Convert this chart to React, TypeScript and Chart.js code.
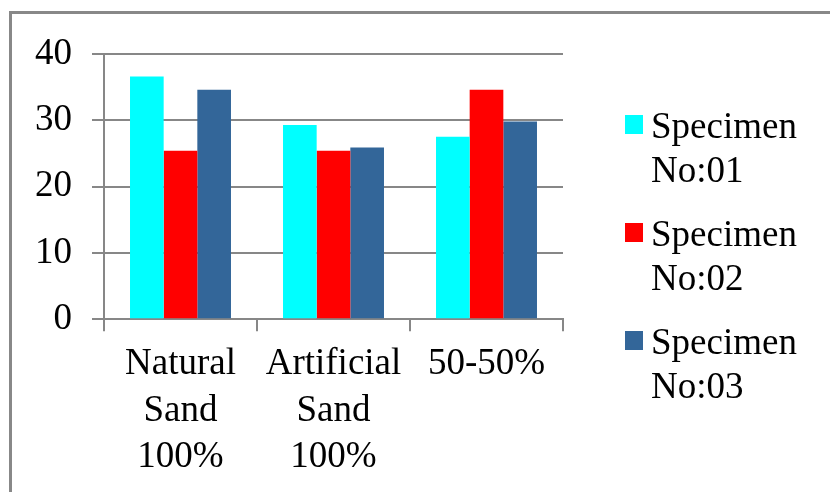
import React, { useEffect, useRef } from "react";
import { Chart, registerables } from "chart.js";

Chart.register(...registerables);

const categories: string[][] = [
  ["Natural", "Sand", "100%"],
  ["Artificial", "Sand", "100%"],
  ["50-50%"],
];
const seriesNames: string[][] = [
  ["Specimen", "No:01"],
  ["Specimen", "No:02"],
  ["Specimen", "No:03"],
];
const specimen01: number[] = [36.6, 29.3, 27.5];
const specimen02: number[] = [25.4, 25.4, 34.6];
const specimen03: number[] = [34.6, 25.9, 29.8];
const colors: string[] = ["#00FFFF", "#FF0000", "#336699"];
const yTicks: number[] = [0, 10, 20, 30, 40];

const FONT = "'Liberation Serif', 'Times New Roman', serif";
const GRID = "#878787";

const legendPlugin = {
  id: "customLegend",
  afterDraw(chart: any) {
    const ctx = chart.ctx as CanvasRenderingContext2D;
    ctx.save();
    ctx.font = `37px ${FONT}`;
    ctx.textBaseline = "alphabetic";
    ctx.textAlign = "left";
    chart.data.datasets.forEach((ds: any, i: number) => {
      const base = 138 + i * 108;
      ctx.fillStyle = ds.backgroundColor;
      ctx.fillRect(625, base - 23, 18, 19);
      ctx.fillStyle = "#000";
      const lines: string[] = ds.legendLines;
      lines.forEach((t, j) => ctx.fillText(t, 651, base + j * 44));
    });
    ctx.restore();
  },
};

export default function App() {
  const ref = useRef<HTMLCanvasElement>(null);
  useEffect(() => {
    document.body.style.margin = "0";
    const data = [specimen01, specimen02, specimen03];
    const chart = new Chart(ref.current!, {
      type: "bar",
      data: {
        labels: categories,
        datasets: data.map((d, i) => ({
          label: seriesNames[i].join(" "),
          legendLines: seriesNames[i],
          data: d,
          backgroundColor: colors[i],
          borderWidth: 0,
          categoryPercentage: 0.66,
          barPercentage: 1.0,
        })) as any,
      },
      options: {
        animation: false,
        responsive: false,
        maintainAspectRatio: false,
        layout: { padding: { top: 54, right: 267, left: 15, bottom: 1 } },
        plugins: { legend: { display: false }, tooltip: { enabled: false } },
        scales: {
          x: {
            grid: {
              display: true,
              drawOnChartArea: false,
              drawTicks: true,
              tickLength: 12,
              color: GRID,
              lineWidth: 2,
            },
            border: { display: true, color: GRID, width: 2 },
            ticks: {
              color: "#000",
              font: { family: FONT, size: 37, lineHeight: 1.26 },
              maxRotation: 0,
              minRotation: 0,
              autoSkip: false,
              padding: 10,
            },
          },
          y: {
            min: 0,
            max: 40,
            afterBuildTicks: (axis: any) => {
              axis.ticks = yTicks.map((v) => ({ value: v }));
            },
            grid: {
              color: GRID,
              lineWidth: 2,
              tickLength: 12,
              drawTicks: true,
            },
            border: { display: true, color: GRID, width: 2 },
            ticks: {
              color: "#000",
              font: { family: FONT, size: 37, lineHeight: 1.2 },
              padding: 20,
            },
          },
        },
      },
      plugins: [legendPlugin],
    });
    return () => chart.destroy();
  }, []);
  return (
    <div style={{ position: "relative", width: 830, height: 492, background: "#fff", overflow: "hidden" }}>
      <div
        style={{
          position: "absolute",
          left: 9,
          top: 11,
          width: 840,
          height: 500,
          borderTop: "3px solid #888",
          borderLeft: "3px solid #888",
          boxSizing: "border-box",
        }}
      />
      <canvas ref={ref} width={830} height={492} style={{ position: "absolute", left: 0, top: 0 }} />
    </div>
  );
}
